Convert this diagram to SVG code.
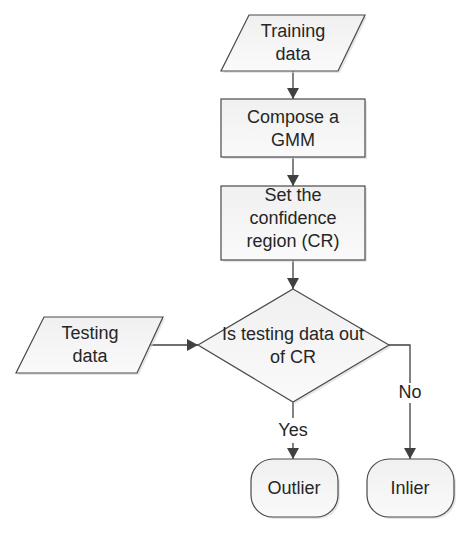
<svg xmlns="http://www.w3.org/2000/svg" width="471" height="540" viewBox="0 0 471 540">
<style>
.s{fill:url(#g);stroke:#4a4a4a;stroke-width:1.2}
.sh{fill:#d6d6d6;stroke:none;opacity:0.6}
.t{font-family:"Liberation Sans",Arial,sans-serif;font-size:18px;fill:#262626;text-anchor:middle}
.c{fill:none;stroke:#404040;stroke-width:1.3}
</style>
<defs>
<linearGradient id="g" x1="0" y1="0" x2="0" y2="1">
<stop offset="0" stop-color="#f0f0f0"/>
<stop offset="1" stop-color="#fafafa"/>
</linearGradient>
<marker id="a" markerWidth="12" markerHeight="12" refX="11" refY="6" orient="auto" markerUnits="userSpaceOnUse">
<path d="M0,0 L11,6 L0,12 Z" fill="#404040"/>
</marker>
</defs>
<rect width="471" height="540" fill="#fff"/>
<g id="connectors">
<line class="c" x1="293" y1="71" x2="293" y2="99" marker-end="url(#a)"/>
<line class="c" x1="293" y1="157" x2="293" y2="186" marker-end="url(#a)"/>
<line class="c" x1="293" y1="260" x2="293" y2="289" marker-end="url(#a)"/>
<line class="c" x1="150" y1="345" x2="198" y2="345" marker-end="url(#a)"/>
<polyline class="c" points="293,402 293,418"/>
<line class="c" x1="293" y1="443" x2="293" y2="459" marker-end="url(#a)"/>
<polyline class="c" points="389,345 410,345 410,383"/>
<line class="c" x1="410" y1="403" x2="410" y2="459" marker-end="url(#a)"/>
<text class="t" x="293" y="436">Yes</text>
<text class="t" x="410" y="398">No</text>
</g>
<g id="training">
<polygon class="sh" points="251,17 367,17 340,73 223,73"/>
<polygon class="s" points="249,15 365,15 338,71 221,71"/>
<text class="t" x="293" y="37">Training</text>
<text class="t" x="293" y="60">data</text>
</g>
<g id="compose">
<rect class="sh" x="223" y="101" width="144" height="58"/>
<rect class="s" x="221" y="99" width="144" height="58"/>
<text class="t" x="293" y="123">Compose a</text>
<text class="t" x="293" y="146">GMM</text>
</g>
<g id="setcr">
<rect class="sh" x="223" y="188" width="144" height="74"/>
<rect class="s" x="221" y="186" width="144" height="74"/>
<text class="t" x="293" y="201">Set the</text>
<text class="t" x="293" y="224">confidence</text>
<text class="t" x="293" y="247">region (CR)</text>
</g>
<g id="decision">
<polygon class="sh" points="295,291 391,347 295,404 200,347"/>
<polygon class="s" points="293,289 389,345 293,402 198,345"/>
<text class="t" x="293" y="340">Is testing data out</text>
<text class="t" x="293" y="363">of CR</text>
</g>
<g id="testing">
<polygon class="sh" points="46,319 165,319 139,375 18,375"/>
<polygon class="s" points="44,317 163,317 137,373 16,373"/>
<text class="t" x="90" y="339">Testing</text>
<text class="t" x="90" y="362">data</text>
</g>
<g id="outlier">
<rect class="sh" x="253" y="461" width="87" height="58" rx="22"/>
<rect class="s" x="251" y="459" width="87" height="58" rx="22"/>
<text class="t" x="294" y="494">Outlier</text>
</g>
<g id="inlier">
<rect class="sh" x="369" y="461" width="87" height="58" rx="22"/>
<rect class="s" x="367" y="459" width="87" height="58" rx="22"/>
<text class="t" x="410" y="494">Inlier</text>
</g>
</svg>
